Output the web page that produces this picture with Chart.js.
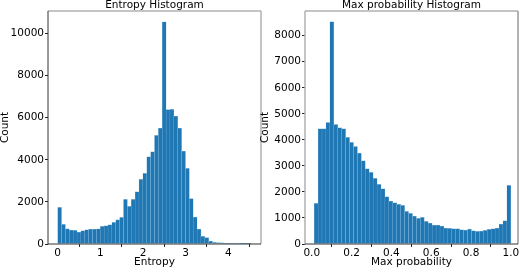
<!DOCTYPE html>
<html><head><meta charset="utf-8">
<script src="https://cdn.jsdelivr.net/npm/chart.js@4.4.1/dist/chart.umd.min.js"></script>
<style>
html,body{margin:0;padding:0;background:#fff;width:520px;height:270px;overflow:hidden}
#c1{position:absolute;left:0;top:0}
#c2{position:absolute;left:260px;top:0}
</style></head><body>
<canvas id="c1" width="262" height="270"></canvas>
<canvas id="c2" width="260" height="270"></canvas>
<script>
// ---- Entropy histogram (50 bins) ----
const entropyCounts = [1742, 935, 729, 665, 650, 570, 634, 681, 713, 713,
  720, 840, 871, 919, 1030, 1156, 1267, 2122, 1790, 2122,
  2487, 3073, 3358, 4150, 4388, 5164, 5512, 10560, 6390, 6400,
  6080, 5512, 4420, 3600, 2160, 1280, 710, 370, 310, 140,
  80, 63, 55, 32, 32, 48, 48, 16, 10, 5];
const entropyRange = [0, 4.54];
const entropyXTicks = [0, 1, 2, 3, 4];
const entropyYTicks = [0, 2000, 4000, 6000, 8000, 10000];

// ---- Max probability histogram (50 bins) ----
const maxProbCounts = [1562, 4429, 4429, 4672, 8538, 4595, 4467, 4429, 4096, 3904,
  3750, 3494, 3200, 2893, 2752, 2522, 2291, 2125, 1818, 1651,
  1587, 1523, 1485, 1254, 1180, 1075, 986, 1024, 870, 806,
  730, 730, 691, 614, 602, 589, 589, 550, 538, 576,
  512, 486, 499, 525, 563, 589, 614, 768, 896, 2253];
const maxProbRange = [0.012, 1.0];
const maxProbXTicks = [0.0, 0.2, 0.4, 0.6, 0.8, 1.0];
const maxProbYTicks = [0, 1000, 2000, 3000, 4000, 5000, 6000, 7000, 8000];

const FONT = 'DejaVu Sans';
const FS = 10.5;
const BAR = '#1f77b4';

const spinesPlugin = {
  id: 'spines',
  afterDraw(chart, args, opts) {
    const {left, right, top, bottom} = chart.chartArea;
    const ctx = chart.ctx;
    const seg = (x1, y1, x2, y2, c, w) => {
      ctx.save(); ctx.strokeStyle = c; ctx.lineWidth = w;
      ctx.beginPath(); ctx.moveTo(x1, y1); ctx.lineTo(x2, y2); ctx.stroke(); ctx.restore();
    };
    const s = opts.sides;
    seg(left, top, right, top, s.top[0], s.top[1]);
    seg(right, top, right, bottom, s.right[0], s.right[1]);
    seg(left, top, left, bottom + 0.5, s.left[0], s.left[1]);
    seg(left, bottom, right, bottom, s.bottom[0], s.bottom[1]);
  }
};

function makeChart(id, cfg) {
  const n = cfg.counts.length;
  const w = (cfg.range[1] - cfg.range[0]) / n;
  const data = cfg.counts.map((c, i) => ({x: cfg.range[0] + (i + 0.5) * w, y: c}));
  return new Chart(document.getElementById(id), {
    type: 'bar',
    data: {datasets: [{data, backgroundColor: BAR, borderColor: 'rgba(150,195,228,0.75)',
      borderWidth: {left: 0.4, right: 0.4, top: 0.6, bottom: 0}, borderSkipped: false,
      barPercentage: 1, categoryPercentage: 1}]},
    options: {
      responsive: false, animation: false, devicePixelRatio: 1,
      layout: {padding: {left: 0, top: 0, right: cfg.padRight, bottom: 0}},
      plugins: {
        legend: {display: false}, tooltip: {enabled: false},
        title: {display: true, text: cfg.title, fullSize: false, color: '#000',
          font: {family: FONT, size: FS, lineHeight: 1.05, weight: 'normal'}, padding: 0},
        spines: {sides: cfg.spines}
      },
      scales: {
        x: {
          type: 'linear', min: cfg.xMin, max: cfg.xMax, offset: false,
          afterBuildTicks: s => { s.ticks = cfg.xTicks.map(v => ({value: v})); },
          afterFit: s => { s.height = 26; s.paddingLeft = 0; s.paddingRight = 0; },
          ticks: {callback: v => cfg.xFmt(v), autoSkip: false, maxRotation: 0, minRotation: 0,
            color: '#000', font: {family: FONT, size: FS}, padding: 0},
          grid: {display: true, drawOnChartArea: false, drawTicks: true, tickLength: 3, color: '#222'},
          border: {display: false},
          title: {display: true, text: cfg.xTitle, color: '#000',
            font: {family: FONT, size: FS, lineHeight: 1.2}, padding: {top: 0, bottom: 1}}
        },
        y: {
          type: 'linear', min: 0, max: cfg.yMax,
          afterBuildTicks: s => { s.ticks = cfg.yTicks.map(v => ({value: v})); },
          afterFit: s => { s.width = cfg.yAxisWidth; s.paddingTop = 0; s.paddingBottom = 0; },
          ticks: {callback: v => String(v), autoSkip: false, color: '#000',
            font: {family: FONT, size: FS}, padding: 1},
          grid: {display: true, drawOnChartArea: false, drawTicks: true, tickLength: 3, color: '#222'},
          border: {display: false},
          title: {display: true, text: 'Count', color: '#000',
            font: {family: FONT, size: FS, lineHeight: 1}, padding: {top: 0, bottom: 0}}
        }
      }
    },
    plugins: [spinesPlugin]
  });
}

makeChart('c1', {
  counts: entropyCounts, range: entropyRange, xTicks: entropyXTicks, yTicks: entropyYTicks,
  xMin: -0.227, xMax: 4.767, yMax: 11070, title: 'Entropy Histogram', xTitle: 'Entropy',
  xFmt: v => String(v), yAxisWidth: 48, padRight: 1,
  spines: {top: ['#b0b0b0', 1.5], right: ['#b0b0b0', 1.5], left: ['#333', 1], bottom: ['#333', 1]}
});
makeChart('c2', {
  counts: maxProbCounts, range: maxProbRange, xTicks: maxProbXTicks, yTicks: maxProbYTicks,
  xMin: -0.034, xMax: 1.036, yMax: 8948, title: 'Max probability Histogram', xTitle: 'Max probability',
  xFmt: v => Number(v).toFixed(1), yAxisWidth: 45, padRight: 2,
  spines: {top: ['#b0b0b0', 1.5], right: ['#999', 1.5], left: ['#b0b0b0', 1.5], bottom: ['#333', 1]}
});
</script>
</body></html>
